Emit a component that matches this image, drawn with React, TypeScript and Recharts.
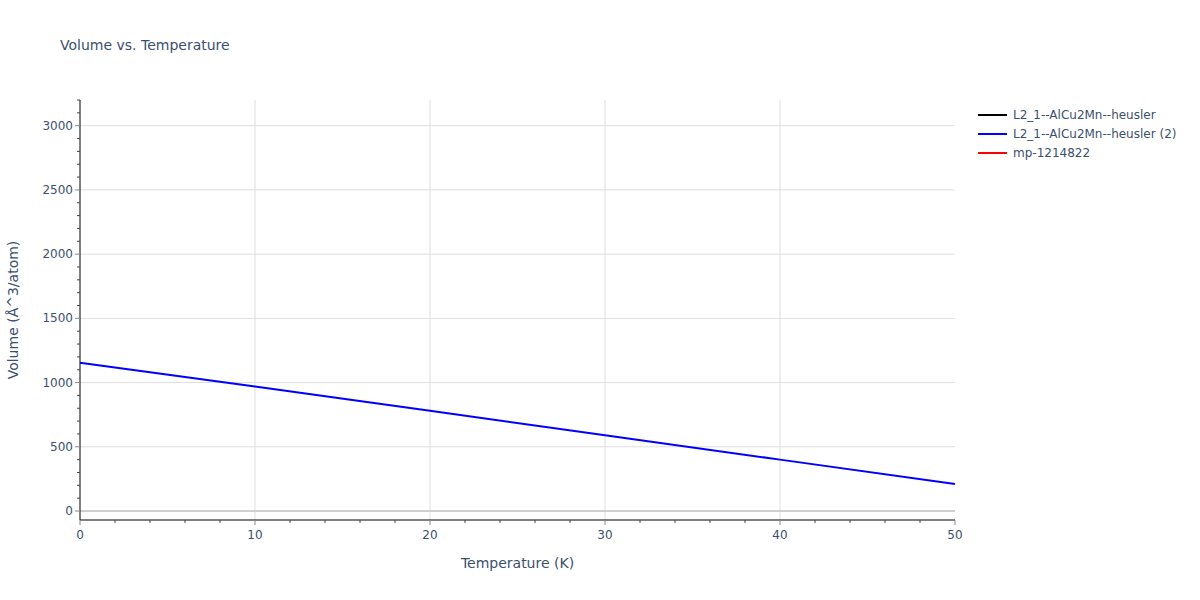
import React from 'react';
import { LineChart, Line, XAxis, YAxis, CartesianGrid, ReferenceLine } from 'recharts';

const temperatures = [0, 10, 20, 30, 40, 50];
// first and third series are not visible in the plotted range
const volumeHeusler: (number | null)[] = [null, null, null, null, null, null];
const volumeHeusler2 = [1155, 970, 780, 590, 400, 210];
const volumeMp: (number | null)[] = [null, null, null, null, null, null];

const seriesNames = ['L2_1--AlCu2Mn--heusler', 'L2_1--AlCu2Mn--heusler (2)', 'mp-1214822'];
const seriesColors = ['#000000', '#0000ff', '#ff0000'];

const xMajor = [0, 10, 20, 30, 40, 50];
const xTicks = Array.from({ length: 26 }, (_, i) => i * 2);
const yMajor = [0, 500, 1000, 1500, 2000, 2500, 3000];
const yTicks = Array.from({ length: 33 }, (_, i) => i * 100);

const data = temperatures.map((t, i) => ({
  t,
  a: volumeHeusler[i],
  b: volumeHeusler2[i],
  c: volumeMp[i],
}));

const FONT = '"DejaVu Sans", verdana, arial, sans-serif';
const TXT = '#3b4f6e';

const XTick = (props: any) => {
  const { x, y, payload } = props;
  const major = xMajor.includes(payload.value);
  return (
    <g>
      <line x1={x} x2={x} y1={y} y2={y + (major ? 5 : 3)} stroke={major ? '#888' : '#444'} strokeWidth={1} />
      {major && (
        <text x={x} y={y + 19} textAnchor="middle" fontSize={12} fill={TXT} fontFamily={FONT}>
          {payload.value}
        </text>
      )}
    </g>
  );
};

const YTick = (props: any) => {
  const { x, y, payload } = props;
  const major = yMajor.includes(payload.value);
  return (
    <g>
      <line x1={x - (major ? 5 : 3)} x2={x} y1={y} y2={y} stroke={major ? '#888' : '#444'} strokeWidth={1} />
      {major && (
        <text x={x - 7} y={y + 4} textAnchor="end" fontSize={12} fill={TXT} fontFamily={FONT}>
          {payload.value}
        </text>
      )}
    </g>
  );
};

const LegendBox = () => (
  <div style={{ position: 'absolute', left: 976, top: 105, fontFamily: FONT, fontSize: 12, color: TXT }}>
    {seriesNames.map((n, i) => (
      <div key={n} style={{ display: 'flex', alignItems: 'center', height: 19 }}>
        <svg width={32} height={4} style={{ marginRight: 5 }}>
          <line x1={2} x2={31} y1={2} y2={2} stroke={seriesColors[i]} strokeWidth={2} />
        </svg>
        <span>{n}</span>
      </div>
    ))}
  </div>
);

export default function App() {
  return (
    <div style={{ position: 'absolute', left: 0, top: 0, width: 1200, height: 600, background: '#fff', fontFamily: FONT }}>
      <div style={{ position: 'absolute', left: 60, top: 37, fontSize: 14, color: TXT }}>Volume vs. Temperature</div>
      <div style={{ position: 'absolute', left: 0, width: 1035, top: 555, textAlign: 'center', fontSize: 14, color: TXT }}>
        Temperature (K)
      </div>
      <div
        style={{
          position: 'absolute',
          left: 13,
          top: 310,
          fontSize: 14,
          color: TXT,
          whiteSpace: 'nowrap',
          transform: 'translate(-50%, -50%) rotate(-90deg)',
        }}
      >
        Volume (Å^3/atom)
      </div>
      <LineChart width={1200} height={600} data={data} margin={{ top: 100, right: 245, bottom: 50, left: 40 }}>
        <CartesianGrid stroke="#dedede" horizontalValues={yMajor.slice(1)} verticalValues={[10, 20, 30, 40]} />
        <ReferenceLine y={0} stroke="#cfcfcf" strokeWidth={2} />
        <XAxis
          dataKey="t"
          type="number"
          domain={[0, 50]}
          ticks={xTicks}
          interval={0}
          tickSize={0}
          tickMargin={0}
          tickLine={false}
          tick={<XTick />}
          axisLine={{ stroke: '#000', strokeWidth: 1 }}
          height={30}
        />
        <YAxis
          type="number"
          domain={[-70, 3200]}
          ticks={yTicks}
          interval={0}
          tickSize={0}
          tickMargin={0}
          tickLine={false}
          tick={<YTick />}
          axisLine={{ stroke: '#000', strokeWidth: 1 }}
          width={40}
          allowDataOverflow
        />
        <Line dataKey="a" stroke={seriesColors[0]} strokeWidth={2} dot={false} isAnimationActive={false} />
        <Line dataKey="b" stroke={seriesColors[1]} strokeWidth={2} dot={false} isAnimationActive={false} />
        <Line dataKey="c" stroke={seriesColors[2]} strokeWidth={2} dot={false} isAnimationActive={false} />
      </LineChart>
      <LegendBox />
    </div>
  );
}
